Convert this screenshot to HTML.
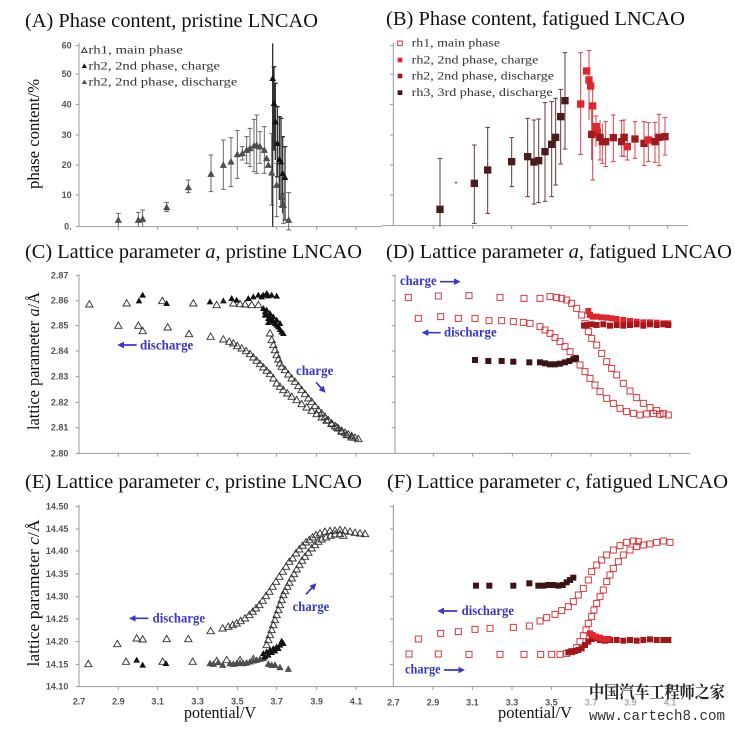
<!DOCTYPE html>
<html><head><meta charset="utf-8"><style>
html,body{margin:0;padding:0;background:#fff;}
svg{display:block;}
.t{font-family:"Liberation Serif",serif;fill:#111;}
.tk{font-family:"Liberation Sans",sans-serif;fill:#555;font-weight:bold;}
.lg{font-family:"Liberation Serif",serif;fill:#333;}
.bl{font-family:"Liberation Serif",serif;fill:#3838c8;font-weight:bold;}
.ax{stroke:#999;stroke-width:3;fill:none;}
.ar{stroke:#3838c8;stroke-width:5;fill:none;}
</style></head><body>
<svg width="735" height="731" viewBox="0 0 735 731" xmlns="http://www.w3.org/2000/svg">
<defs>
<path id="TO" d="M-11,8L0,-11L11,8Z" fill="none" stroke="#333" stroke-width="2.8"/>
<path id="TB" d="M-10,8L0,-10L10,8Z" fill="#111"/>
<path id="TG" d="M-10,8L0,-10L10,8Z" fill="#505050" stroke="#333" stroke-width="1"/>
<path id="LO" d="M-8,6L0,-8L8,6Z" fill="none" stroke="#333" stroke-width="3"/>
<path id="LB" d="M-8,6L0,-8L8,6Z" fill="#111"/>
<path id="LG" d="M-8,6L0,-8L8,6Z" fill="#555"/>
<path id="SO" d="M-9,-9h18v18h-18z" fill="none" stroke="#d63a3e" stroke-width="3"/>
<path id="SR" d="M-9,-9h18v18h-18z" fill="#e0262c"/>
<path id="SD" d="M-9,-9h18v18h-18z" fill="#a3161c"/>
<path id="SB" d="M-9,-9h18v18h-18z" fill="#3c1414"/>
<path id="BR" d="M-11,-11h22v22h-22z" fill="#e0262c"/>
<path id="BD" d="M-11,-11h22v22h-22z" fill="#9e1a1e"/>
<path id="BB" d="M-11,-11h22v22h-22z" fill="#4a1c1c"/>
<path id="LSO" d="M-7,-7h14v14h-14z" fill="none" stroke="#d63a3e" stroke-width="3"/>
<path id="LSR" d="M-7,-7h14v14h-14z" fill="#e0262c"/>
<path id="LSD" d="M-7,-7h14v14h-14z" fill="#a3161c"/>
<path id="LSB" d="M-7,-7h14v14h-14z" fill="#3c1414"/>
<marker id="ah" viewBox="0 0 10 10" refX="5" refY="5" markerWidth="4" markerHeight="4" orient="auto"><path d="M0,0L10,5L0,10z" fill="#3838c8"/></marker>
</defs>

<!-- Titles -->
<text class="t" x="25" y="27" font-size="20" textLength="293" lengthAdjust="spacingAndGlyphs">(A) Phase content, pristine LNCAO</text>
<text class="t" x="386" y="25" font-size="20" textLength="299" lengthAdjust="spacingAndGlyphs">(B) Phase content, fatigued LNCAO</text>
<text class="t" x="25" y="258" font-size="20" textLength="337" lengthAdjust="spacingAndGlyphs">(C) Lattice parameter <tspan font-style="italic">a</tspan>, pristine LNCAO</text>
<text class="t" x="386" y="258" font-size="20" textLength="346" lengthAdjust="spacingAndGlyphs">(D) Lattice parameter <tspan font-style="italic">a</tspan>, fatigued LNCAO</text>
<text class="t" x="25" y="488" font-size="20" textLength="337" lengthAdjust="spacingAndGlyphs">(E) Lattice parameter <tspan font-style="italic">c</tspan>, pristine LNCAO</text>
<text class="t" x="387" y="488" font-size="20" textLength="341" lengthAdjust="spacingAndGlyphs">(F) Lattice parameter <tspan font-style="italic">c</tspan>, fatigued LNCAO</text>

<!-- Y labels -->
<text class="t" font-size="17" text-anchor="middle" transform="translate(39,134) rotate(-90)" textLength="110" lengthAdjust="spacingAndGlyphs">phase content/%</text>
<text class="t" font-size="17" text-anchor="middle" transform="translate(39,361) rotate(-90)" textLength="138" lengthAdjust="spacingAndGlyphs">lattice parameter <tspan font-style="italic">a</tspan>/Å</text>
<text class="t" font-size="17" text-anchor="middle" transform="translate(39,593) rotate(-90)" textLength="147" lengthAdjust="spacingAndGlyphs">lattice parameter <tspan font-style="italic">c</tspan>/Å</text>

<!-- X labels -->
<text class="t" x="220" y="718" font-size="17" text-anchor="middle" textLength="72" lengthAdjust="spacingAndGlyphs">potential/V</text>
<text class="t" x="535" y="718" font-size="17" text-anchor="middle" textLength="74" lengthAdjust="spacingAndGlyphs">potential/V</text>

<!-- ============ PANEL A ============ -->
<g transform="translate(0,0) scale(0.33333)">
<path class="ax" d="M237,128V680H1146M227,137h10M227,222h10M227,313h10M227,405h10M227,495h10M227,585h10M227,680h10M355,680v10M473,680v10M593,680v10M712,680v10M830,680v10M950,680v10M1068,680v10"/>
<g class="tk" font-size="27" text-anchor="end">
<text x="215" y="146">60</text><text x="215" y="231">50</text><text x="215" y="322">40</text><text x="215" y="414">30</text><text x="215" y="504">20</text><text x="215" y="594">10</text><text x="215" y="689">0.</text>
</g>
<use href="#LO" x="253" y="151"/><use href="#LB" x="253" y="198"/><use href="#LG" x="253" y="246"/>
<g class="lg" font-size="36">
<text x="265" y="161" textLength="283" lengthAdjust="spacingAndGlyphs">rh1, main phase</text>
<text x="265" y="208" textLength="395" lengthAdjust="spacingAndGlyphs">rh2, 2nd phase, charge</text>
<text x="265" y="256" textLength="447" lengthAdjust="spacingAndGlyphs">rh2, 2nd phase, discharge</text>
</g>
<path stroke="#6a6a6a" stroke-width="3" fill="none" d="M355,640V680M348,640h14M415,637V680M408,637h14M428,630V680M421,630h14M500,607V635M493,607h14M493,635h14M565,540V578M558,540h14M558,578h14M633,465V575M626,465h14M626,575h14M670,420V568M663,420h14M663,568h14M693,413V560M686,413h14M686,560h14M712,392V535M705,392h14M705,535h14M727,440V480M720,440h14M720,480h14M740,410V490M733,410h14M733,490h14M750,385V500M743,385h14M743,500h14M762,358V515M755,358h14M755,515h14M770,345V520M763,345h14M763,520h14M780,395V490M773,395h14M773,490h14M793,380V520M786,380h14M786,520h14M815,400V615M808,400h14M808,615h14M830,490V650M823,490h14M823,650h14M850,580V670M843,580h14M843,670h14M866,578V690M859,578h14M859,690h14"/>
<path stroke="#333" stroke-width="4" fill="none" d="M818,130V680M822,200V450M815,200h14M815,450h14M826,250V480M819,250h14M832,320V530M825,320h14M825,530h14M838,350V600M831,350h14M843,355V620M836,355h14M836,620h14M848,410V640M841,410h14M855,440V660M848,440h14M848,660h14"/>
<g>
<use href="#TG" x="355" y="660"/><use href="#TG" x="415" y="660"/><use href="#TG" x="428" y="657"/><use href="#TG" x="500" y="622"/><use href="#TG" x="565" y="562"/><use href="#TG" x="633" y="522"/><use href="#TG" x="670" y="495"/><use href="#TG" x="693" y="485"/><use href="#TG" x="712" y="463"/><use href="#TG" x="727" y="460"/><use href="#TG" x="740" y="450"/><use href="#TG" x="750" y="445"/><use href="#TG" x="762" y="437"/><use href="#TG" x="770" y="435"/><use href="#TG" x="780" y="440"/><use href="#TG" x="793" y="450"/><use href="#TG" x="800" y="475"/><use href="#TG" x="805" y="495"/><use href="#TG" x="815" y="518"/><use href="#TG" x="830" y="555"/><use href="#TG" x="845" y="590"/><use href="#TG" x="850" y="615"/><use href="#TG" x="866" y="660"/>
<use href="#TB" x="818" y="235"/><use href="#TB" x="822" y="310"/><use href="#TB" x="826" y="365"/><use href="#TB" x="832" y="430"/><use href="#TB" x="838" y="478"/><use href="#TB" x="843" y="485"/><use href="#TB" x="848" y="520"/><use href="#TB" x="855" y="532"/>
</g>
</g>

<!-- ============ PANEL B ============ -->
<g transform="translate(370,0) scale(0.33333)">
<path class="ax" d="M70,128V677M36,677H955M60,137h10M60,222h10M60,313h10M60,405h10M60,495h10M60,585h10M190,677v10M308,677v10M425,677v10M543,677v10M660,677v10M778,677v10M893,677v10"/>
<use href="#LSO" x="90" y="130"/><use href="#LSR" x="90" y="180"/><use href="#LSD" x="90" y="228"/><use href="#LSB" x="90" y="278"/>
<g class="lg" font-size="36">
<text x="125" y="140" textLength="265" lengthAdjust="spacingAndGlyphs">rh1, main phase</text>
<text x="125" y="190" textLength="380" lengthAdjust="spacingAndGlyphs">rh2, 2nd phase, charge</text>
<text x="125" y="238" textLength="427" lengthAdjust="spacingAndGlyphs">rh2, 2nd phase, discharge</text>
<text x="125" y="288" textLength="423" lengthAdjust="spacingAndGlyphs">rh3, 3rd phase, discharge</text>
</g>
<path stroke="#6b3a3a" stroke-width="3" fill="none" d="M210,475V680M203,475h14M313,435V670M306,435h14M306,670h14M353,382V640M346,382h14M346,640h14M425,413V560M418,413h14M418,560h14M473,355V590M466,355h14M466,590h14M492,360V612M485,360h14M485,612h14M506,357V608M499,357h14M499,608h14M525,308V604M518,308h14M518,604h14M545,305V590M538,305h14M538,590h14M557,295V555M550,295h14M550,555h14M572,268V492M565,268h14M565,492h14M585,158V447M578,158h14M578,447h14"/>
<path stroke="#d84448" stroke-width="3" fill="none" d="M632,158V463M625,158h14M625,463h14M657,152V360M650,152h14M668,260V540M661,540h14M665,330V480M678,348V440M671,348h14M690,360V480M683,480h14M697,370V490M690,490h14M707,365V500M700,365h14M700,500h14M730,345V485M723,345h14M723,485h14M755,362V468M748,362h14M748,468h14M762,360V470M755,360h14M755,470h14M772,400V480M765,480h14M795,365V475M788,365h14M788,475h14M822,365V497M815,365h14M815,497h14M835,368V485M828,368h14M828,485h14M855,367V487M848,367h14M848,487h14M867,343V497M860,343h14M860,497h14M885,353V465M878,353h14M878,465h14"/>
<circle cx="258" cy="548" r="3" fill="#666"/>
<g>
<use href="#BB" x="210" y="628"/><use href="#BB" x="313" y="550"/><use href="#BB" x="353" y="510"/><use href="#BB" x="425" y="485"/><use href="#BB" x="473" y="470"/><use href="#BB" x="492" y="486"/><use href="#BB" x="506" y="482"/><use href="#BB" x="525" y="455"/><use href="#BB" x="545" y="433"/><use href="#BB" x="557" y="412"/><use href="#BB" x="572" y="350"/><use href="#BB" x="585" y="302"/>
<use href="#BR" x="632" y="312"/><use href="#BR" x="650" y="213"/><use href="#BR" x="657" y="240"/><use href="#BR" x="662" y="258"/><use href="#BR" x="668" y="318"/><use href="#BR" x="678" y="380"/><use href="#BR" x="682" y="397"/>
<use href="#BD" x="665" y="403"/><use href="#BD" x="690" y="412"/><use href="#BD" x="697" y="425"/><use href="#BD" x="707" y="425"/><use href="#BD" x="730" y="413"/><use href="#BD" x="755" y="425"/><use href="#BD" x="762" y="412"/><use href="#BR" x="772" y="440"/><use href="#BD" x="795" y="417"/><use href="#BD" x="822" y="430"/><use href="#BR" x="835" y="420"/><use href="#BD" x="855" y="425"/><use href="#BD" x="867" y="412"/><use href="#BD" x="885" y="410"/>
</g>
</g>

<!-- ============ PANEL C ============ -->
<g transform="translate(0,235) scale(0.33333)">
<path class="ax" d="M237,118V655H1146M227,122h10M227,197h10M227,272h10M227,348h10M227,425h10M227,502h10M227,578h10M227,655h10M355,655v10M473,655v10M593,655v10M712,655v10M830,655v10M950,655v10M1068,655v10"/>
<g class="tk" font-size="27" text-anchor="end">
<text x="205" y="131">2.87</text><text x="205" y="206">2.86</text><text x="205" y="281">2.85</text><text x="205" y="357">2.84</text><text x="205" y="434">2.83</text><text x="205" y="511">2.82</text><text x="205" y="587">2.81</text><text x="205" y="664">2.80</text>
</g>
<g>
<use href="#TO" x="268" y="208"/><use href="#TO" x="380" y="205"/><use href="#TO" x="487" y="198"/><use href="#TO" x="580" y="205"/><use href="#TO" x="650" y="210"/><use href="#TO" x="700" y="205"/><use href="#TO" x="720" y="207"/><use href="#TO" x="735" y="208"/><use href="#TO" x="755" y="210"/><use href="#TO" x="775" y="210"/>
<use href="#TO" x="355" y="272"/><use href="#TO" x="415" y="272"/><use href="#TO" x="428" y="288"/><use href="#TO" x="503" y="277"/><use href="#TO" x="567" y="297"/><use href="#TO" x="632" y="305"/>
<use href="#TO" x="810" y="295"/><use href="#TO" x="815" y="315"/><use href="#TO" x="820" y="330"/><use href="#TO" x="825" y="345"/><use href="#TO" x="830" y="360"/><use href="#TO" x="835" y="373"/><use href="#TO" x="840" y="385"/><use href="#TO" x="845" y="395"/><use href="#TO" x="855" y="405"/><use href="#TO" x="865" y="418"/><use href="#TO" x="875" y="430"/><use href="#TO" x="885" y="440"/><use href="#TO" x="895" y="453"/><use href="#TO" x="905" y="465"/><use href="#TO" x="915" y="477"/><use href="#TO" x="925" y="490"/><use href="#TO" x="935" y="500"/><use href="#TO" x="945" y="513"/><use href="#TO" x="955" y="525"/><use href="#TO" x="965" y="535"/><use href="#TO" x="975" y="545"/><use href="#TO" x="985" y="555"/><use href="#TO" x="995" y="565"/><use href="#TO" x="1005" y="573"/><use href="#TO" x="1015" y="580"/><use href="#TO" x="1025" y="587"/><use href="#TO" x="1035" y="593"/><use href="#TO" x="1045" y="598"/><use href="#TO" x="1055" y="603"/><use href="#TO" x="1065" y="608"/><use href="#TO" x="1075" y="612"/>
<use href="#TO" x="670" y="313"/><use href="#TO" x="688" y="320"/><use href="#TO" x="700" y="325"/><use href="#TO" x="712" y="333"/><use href="#TO" x="725" y="340"/><use href="#TO" x="738" y="348"/><use href="#TO" x="750" y="357"/><use href="#TO" x="760" y="367"/><use href="#TO" x="770" y="377"/><use href="#TO" x="780" y="387"/><use href="#TO" x="790" y="397"/><use href="#TO" x="800" y="407"/><use href="#TO" x="810" y="417"/><use href="#TO" x="820" y="430"/><use href="#TO" x="830" y="445"/><use href="#TO" x="840" y="455"/><use href="#TO" x="850" y="465"/><use href="#TO" x="862" y="475"/><use href="#TO" x="875" y="485"/><use href="#TO" x="890" y="495"/><use href="#TO" x="905" y="507"/><use href="#TO" x="920" y="517"/><use href="#TO" x="935" y="527"/><use href="#TO" x="950" y="537"/><use href="#TO" x="965" y="547"/><use href="#TO" x="980" y="557"/><use href="#TO" x="995" y="567"/><use href="#TO" x="1010" y="577"/><use href="#TO" x="1025" y="590"/><use href="#TO" x="1040" y="600"/><use href="#TO" x="1055" y="607"/>
<use href="#TB" x="417" y="197"/><use href="#TB" x="428" y="180"/><use href="#TB" x="500" y="205"/><use href="#TB" x="630" y="200"/><use href="#TB" x="670" y="197"/><use href="#TB" x="695" y="190"/><use href="#TB" x="710" y="195"/><use href="#TB" x="745" y="190"/><use href="#TB" x="760" y="185"/><use href="#TB" x="775" y="180"/><use href="#TB" x="785" y="185"/><use href="#TB" x="790" y="180"/><use href="#TB" x="800" y="175"/><use href="#TB" x="805" y="182"/><use href="#TB" x="815" y="180"/><use href="#TB" x="830" y="183"/>
<use href="#TB" x="790" y="220"/><use href="#TB" x="795" y="230"/><use href="#TB" x="800" y="240"/><use href="#TB" x="805" y="250"/><use href="#TB" x="810" y="247"/><use href="#TB" x="815" y="255"/><use href="#TB" x="820" y="260"/><use href="#TB" x="825" y="265"/><use href="#TB" x="830" y="270"/><use href="#TB" x="835" y="275"/><use href="#TB" x="840" y="283"/><use href="#TB" x="845" y="290"/><use href="#TB" x="850" y="295"/><use href="#TB" x="800" y="225"/><use href="#TB" x="810" y="235"/><use href="#TB" x="820" y="245"/><use href="#TB" x="830" y="255"/><use href="#TB" x="840" y="265"/><use href="#TB" x="795" y="240"/><use href="#TB" x="805" y="262"/>
</g>
<path class="ar" d="M410,330H362" marker-end="url(#ah)"/>
<text class="bl" x="420" y="343" font-size="42" textLength="160" lengthAdjust="spacingAndGlyphs">discharge</text>
<text class="bl" x="888" y="420" font-size="42" textLength="112" lengthAdjust="spacingAndGlyphs">charge</text>
<path class="ar" d="M948,442L970,466" marker-end="url(#ah)"/>
</g>

<!-- ============ PANEL D ============ -->
<g transform="translate(370,235) scale(0.33333)">
<path class="ax" d="M75,118V655M36,655H960M65,122h10M65,197h10M65,272h10M65,348h10M65,425h10M65,502h10M65,578h10M190,655v10M308,655v10M427,655v10M545,655v10M663,655v10M782,655v10M900,655v10"/>
<g>
<use href="#SO" x="115" y="187"/><use href="#SO" x="205" y="183"/><use href="#SO" x="297" y="182"/><use href="#SO" x="390" y="187"/><use href="#SO" x="462" y="190"/><use href="#SO" x="510" y="190"/><use href="#SO" x="540" y="185"/><use href="#SO" x="560" y="187"/><use href="#SO" x="575" y="190"/><use href="#SO" x="590" y="195"/><use href="#SO" x="605" y="205"/><use href="#SO" x="620" y="220"/><use href="#SO" x="635" y="240"/><use href="#SO" x="645" y="265"/><use href="#SO" x="655" y="290"/><use href="#SO" x="665" y="310"/><use href="#SO" x="680" y="330"/><use href="#SO" x="695" y="355"/><use href="#SO" x="710" y="380"/><use href="#SO" x="725" y="400"/><use href="#SO" x="740" y="420"/><use href="#SO" x="760" y="445"/><use href="#SO" x="780" y="468"/><use href="#SO" x="800" y="488"/><use href="#SO" x="820" y="505"/><use href="#SO" x="840" y="518"/><use href="#SO" x="860" y="527"/><use href="#SO" x="880" y="535"/><use href="#SO" x="895" y="540"/>
<use href="#SO" x="145" y="250"/><use href="#SO" x="212" y="245"/><use href="#SO" x="265" y="250"/><use href="#SO" x="315" y="250"/><use href="#SO" x="357" y="257"/><use href="#SO" x="395" y="257"/><use href="#SO" x="430" y="260"/><use href="#SO" x="460" y="262"/><use href="#SO" x="480" y="265"/><use href="#SO" x="510" y="275"/><use href="#SO" x="525" y="285"/><use href="#SO" x="540" y="295"/><use href="#SO" x="555" y="308"/><use href="#SO" x="570" y="320"/><use href="#SO" x="585" y="335"/><use href="#SO" x="600" y="350"/><use href="#SO" x="615" y="370"/><use href="#SO" x="630" y="390"/><use href="#SO" x="645" y="410"/><use href="#SO" x="660" y="430"/><use href="#SO" x="675" y="450"/><use href="#SO" x="690" y="470"/><use href="#SO" x="710" y="490"/><use href="#SO" x="730" y="505"/><use href="#SO" x="750" y="520"/><use href="#SO" x="770" y="530"/><use href="#SO" x="790" y="535"/><use href="#SO" x="810" y="540"/><use href="#SO" x="830" y="537"/><use href="#SO" x="850" y="535"/><use href="#SO" x="870" y="538"/>
<use href="#SR" x="655" y="228"/><use href="#SR" x="660" y="240"/><use href="#SR" x="668" y="245"/><use href="#SR" x="680" y="245"/><use href="#SR" x="695" y="247"/><use href="#SR" x="710" y="248"/><use href="#SR" x="725" y="250"/><use href="#SR" x="740" y="252"/><use href="#SR" x="760" y="255"/><use href="#SR" x="780" y="258"/><use href="#SR" x="800" y="260"/><use href="#SR" x="820" y="262"/><use href="#SR" x="840" y="262"/><use href="#SR" x="860" y="263"/><use href="#SR" x="880" y="265"/><use href="#SR" x="895" y="265"/>
<use href="#SD" x="642" y="272"/><use href="#SD" x="650" y="270"/><use href="#SD" x="665" y="268"/><use href="#SD" x="680" y="270"/><use href="#SD" x="700" y="268"/><use href="#SD" x="720" y="272"/><use href="#SD" x="740" y="270"/><use href="#SD" x="760" y="272"/><use href="#SD" x="780" y="270"/><use href="#SD" x="800" y="268"/><use href="#SD" x="820" y="272"/><use href="#SD" x="840" y="268"/><use href="#SD" x="860" y="270"/><use href="#SD" x="880" y="268"/><use href="#SD" x="895" y="270"/>
<use href="#SB" x="315" y="375"/><use href="#SB" x="355" y="378"/><use href="#SB" x="395" y="378"/><use href="#SB" x="430" y="380"/><use href="#SB" x="478" y="382"/><use href="#SB" x="510" y="382"/><use href="#SB" x="525" y="385"/><use href="#SB" x="540" y="388"/><use href="#SB" x="555" y="388"/><use href="#SB" x="570" y="386"/><use href="#SB" x="585" y="382"/><use href="#SB" x="598" y="378"/><use href="#SB" x="610" y="373"/><use href="#SB" x="618" y="370"/>
</g>
<text class="bl" x="90" y="150" font-size="42" textLength="110" lengthAdjust="spacingAndGlyphs">charge</text>
<path class="ar" d="M210,140H262" marker-end="url(#ah)"/>
<path class="ar" d="M212,293H165" marker-end="url(#ah)"/>
<text class="bl" x="222" y="305" font-size="42" textLength="158" lengthAdjust="spacingAndGlyphs">discharge</text>
</g>

<!-- ============ PANEL E ============ -->
<g transform="translate(0,465) scale(0.33333)">
<path class="ax" d="M237,120V665H1146M227,125h10M227,192h10M227,258h10M227,327h10M227,395h10M227,462h10M227,530h10M227,598h10M227,665h10M355,665v10M473,665v10M593,665v10M712,665v10M830,665v10M950,665v10M1068,665v10"/>
<g class="tk" font-size="27" text-anchor="end">
<text x="205" y="134">14.50</text><text x="205" y="201">14.45</text><text x="205" y="267">14.40</text><text x="205" y="336">14.35</text><text x="205" y="404">14.30</text><text x="205" y="471">14.25</text><text x="205" y="539">14.20</text><text x="205" y="607">14.15</text><text x="205" y="674">14.10</text>
</g>
<g class="tk" font-size="27" text-anchor="middle">
<text x="237" y="719">2.7</text><text x="355" y="719">2.9</text><text x="473" y="719">3.1</text><text x="593" y="719">3.3</text><text x="712" y="719">3.5</text><text x="830" y="719">3.7</text><text x="950" y="719">3.9</text><text x="1068" y="719">4.1</text>
</g>
<g>
<use href="#TO" x="265" y="597"/><use href="#TO" x="352" y="537"/><use href="#TO" x="378" y="590"/><use href="#TO" x="410" y="520"/><use href="#TO" x="428" y="523"/><use href="#TO" x="488" y="590"/><use href="#TO" x="500" y="522"/><use href="#TO" x="565" y="522"/><use href="#TO" x="578" y="590"/><use href="#TO" x="632" y="498"/><use href="#TO" x="650" y="588"/>
<use href="#TO" x="668" y="490"/><use href="#TO" x="685" y="485"/><use href="#TO" x="698" y="480"/><use href="#TO" x="710" y="475"/><use href="#TO" x="722" y="468"/><use href="#TO" x="735" y="460"/><use href="#TO" x="748" y="450"/><use href="#TO" x="758" y="440"/><use href="#TO" x="768" y="430"/><use href="#TO" x="778" y="420"/><use href="#TO" x="788" y="407"/><use href="#TO" x="798" y="393"/><use href="#TO" x="808" y="380"/><use href="#TO" x="818" y="365"/><use href="#TO" x="828" y="350"/><use href="#TO" x="838" y="335"/><use href="#TO" x="848" y="320"/><use href="#TO" x="858" y="305"/><use href="#TO" x="868" y="290"/><use href="#TO" x="878" y="280"/><use href="#TO" x="888" y="265"/><use href="#TO" x="898" y="253"/><use href="#TO" x="908" y="242"/><use href="#TO" x="918" y="232"/><use href="#TO" x="928" y="225"/><use href="#TO" x="938" y="217"/><use href="#TO" x="948" y="210"/><use href="#TO" x="960" y="205"/><use href="#TO" x="975" y="200"/><use href="#TO" x="990" y="198"/><use href="#TO" x="1005" y="197"/><use href="#TO" x="1020" y="195"/><use href="#TO" x="1035" y="197"/><use href="#TO" x="1050" y="200"/><use href="#TO" x="1065" y="203"/><use href="#TO" x="1080" y="205"/><use href="#TO" x="1095" y="207"/>
<use href="#TO" x="800" y="540"/><use href="#TO" x="805" y="525"/><use href="#TO" x="810" y="510"/><use href="#TO" x="815" y="495"/><use href="#TO" x="820" y="480"/><use href="#TO" x="825" y="465"/><use href="#TO" x="830" y="450"/><use href="#TO" x="835" y="435"/><use href="#TO" x="840" y="420"/><use href="#TO" x="845" y="405"/><use href="#TO" x="850" y="390"/><use href="#TO" x="855" y="378"/><use href="#TO" x="862" y="365"/><use href="#TO" x="868" y="353"/><use href="#TO" x="875" y="340"/><use href="#TO" x="882" y="327"/><use href="#TO" x="890" y="313"/><use href="#TO" x="898" y="300"/><use href="#TO" x="906" y="287"/><use href="#TO" x="915" y="275"/><use href="#TO" x="925" y="263"/><use href="#TO" x="935" y="250"/><use href="#TO" x="945" y="240"/><use href="#TO" x="955" y="230"/><use href="#TO" x="965" y="223"/><use href="#TO" x="978" y="217"/><use href="#TO" x="992" y="212"/><use href="#TO" x="1005" y="208"/><use href="#TO" x="1020" y="207"/><use href="#TO" x="1030" y="212"/>
<use href="#TO" x="680" y="585"/><use href="#TO" x="720" y="585"/><use href="#TO" x="760" y="582"/>
<use href="#TG" x="630" y="595"/><use href="#TG" x="640" y="597"/><use href="#TG" x="655" y="592"/><use href="#TG" x="668" y="600"/><use href="#TG" x="690" y="595"/><use href="#TG" x="700" y="597"/><use href="#TG" x="710" y="595"/><use href="#TG" x="720" y="593"/><use href="#TG" x="730" y="595"/><use href="#TG" x="740" y="593"/><use href="#TG" x="750" y="590"/><use href="#TG" x="760" y="587"/><use href="#TG" x="770" y="585"/><use href="#TG" x="780" y="582"/><use href="#TG" x="790" y="580"/><use href="#TG" x="805" y="597"/><use href="#TG" x="815" y="600"/><use href="#TG" x="825" y="600"/><use href="#TG" x="840" y="607"/><use href="#TG" x="865" y="612"/>
<use href="#TB" x="410" y="585"/><use href="#TB" x="428" y="600"/><use href="#TB" x="498" y="595"/>
<use href="#TB" x="790" y="565"/><use href="#TB" x="800" y="560"/><use href="#TB" x="810" y="555"/><use href="#TB" x="820" y="550"/><use href="#TB" x="830" y="545"/><use href="#TB" x="840" y="540"/><use href="#TB" x="850" y="535"/><use href="#TB" x="845" y="528"/><use href="#TB" x="835" y="550"/><use href="#TB" x="795" y="575"/><use href="#TB" x="805" y="570"/><use href="#TB" x="815" y="562"/><use href="#TB" x="825" y="557"/>
</g>
<path class="ar" d="M445,460H397" marker-end="url(#ah)"/>
<text class="bl" x="458" y="472" font-size="42" textLength="157" lengthAdjust="spacingAndGlyphs">discharge</text>
<text class="bl" x="878" y="438" font-size="42" textLength="110" lengthAdjust="spacingAndGlyphs">charge</text>
<path class="ar" d="M918,388L942,362" marker-end="url(#ah)"/>
</g>

<!-- ============ PANEL F ============ -->
<g transform="translate(370,465) scale(0.33333)">
<path class="ax" d="M70,120V665M36,665H960M60,125h10M60,192h10M60,258h10M60,327h10M60,395h10M60,462h10M60,530h10M60,598h10M189,665v10M307,665v10M426,665v10M544,665v10M663,665v10M781,665v10M900,665v10"/>
<g class="tk" font-size="27" text-anchor="middle">
<text x="70" y="722">2.7</text><text x="189" y="722">2.9</text><text x="307" y="722">3.1</text><text x="426" y="722">3.3</text><text x="544" y="722">3.5</text><text x="663" y="722" fill="#aaa">3.7</text><text x="781" y="722" fill="#aaa">3.9</text><text x="900" y="722" fill="#aaa">4.1</text>
</g>
<g>
<use href="#SO" x="117" y="567"/><use href="#SO" x="205" y="567"/><use href="#SO" x="297" y="568"/><use href="#SO" x="390" y="568"/><use href="#SO" x="462" y="568"/><use href="#SO" x="512" y="568"/><use href="#SO" x="545" y="568"/><use href="#SO" x="570" y="568"/><use href="#SO" x="590" y="565"/><use href="#SO" x="605" y="560"/><use href="#SO" x="620" y="548"/><use href="#SO" x="630" y="530"/><use href="#SO" x="640" y="512"/><use href="#SO" x="648" y="495"/><use href="#SO" x="655" y="475"/><use href="#SO" x="665" y="455"/><use href="#SO" x="672" y="435"/><use href="#SO" x="680" y="415"/><use href="#SO" x="690" y="395"/><use href="#SO" x="700" y="375"/><use href="#SO" x="710" y="350"/><use href="#SO" x="720" y="330"/><use href="#SO" x="730" y="310"/><use href="#SO" x="745" y="290"/><use href="#SO" x="760" y="270"/><use href="#SO" x="780" y="255"/><use href="#SO" x="800" y="245"/><use href="#SO" x="820" y="240"/><use href="#SO" x="840" y="237"/><use href="#SO" x="860" y="232"/><use href="#SO" x="880" y="228"/><use href="#SO" x="900" y="232"/>
<use href="#SO" x="145" y="522"/><use href="#SO" x="212" y="505"/><use href="#SO" x="265" y="500"/><use href="#SO" x="315" y="493"/><use href="#SO" x="360" y="490"/><use href="#SO" x="430" y="487"/><use href="#SO" x="478" y="483"/><use href="#SO" x="510" y="468"/><use href="#SO" x="530" y="458"/><use href="#SO" x="555" y="448"/><use href="#SO" x="575" y="437"/><use href="#SO" x="595" y="425"/><use href="#SO" x="610" y="410"/><use href="#SO" x="625" y="390"/><use href="#SO" x="640" y="370"/><use href="#SO" x="655" y="345"/><use href="#SO" x="665" y="320"/><use href="#SO" x="680" y="300"/><use href="#SO" x="695" y="285"/><use href="#SO" x="710" y="270"/><use href="#SO" x="730" y="255"/><use href="#SO" x="750" y="242"/><use href="#SO" x="770" y="232"/><use href="#SO" x="790" y="228"/><use href="#SO" x="805" y="230"/>
<use href="#SD" x="595" y="562"/><use href="#SD" x="605" y="560"/><use href="#SD" x="615" y="558"/><use href="#SD" x="625" y="555"/><use href="#SD" x="635" y="550"/><use href="#SD" x="645" y="540"/><use href="#SD" x="655" y="530"/><use href="#SD" x="665" y="522"/><use href="#SD" x="675" y="520"/><use href="#SD" x="690" y="525"/><use href="#SD" x="705" y="527"/><use href="#SD" x="720" y="525"/><use href="#SD" x="740" y="525"/><use href="#SD" x="760" y="527"/><use href="#SD" x="780" y="525"/><use href="#SD" x="800" y="527"/><use href="#SD" x="820" y="525"/><use href="#SD" x="840" y="523"/><use href="#SD" x="860" y="525"/><use href="#SD" x="880" y="525"/><use href="#SD" x="895" y="525"/>
<use href="#SR" x="660" y="505"/><use href="#SR" x="668" y="510"/><use href="#SR" x="678" y="515"/><use href="#SR" x="690" y="518"/><use href="#SR" x="700" y="522"/><use href="#SR" x="715" y="522"/>
<use href="#SB" x="318" y="362"/><use href="#SB" x="358" y="362"/><use href="#SB" x="430" y="362"/><use href="#SB" x="478" y="355"/><use href="#SB" x="505" y="362"/><use href="#SB" x="520" y="362"/><use href="#SB" x="535" y="360"/><use href="#SB" x="550" y="360"/><use href="#SB" x="565" y="362"/><use href="#SB" x="578" y="360"/><use href="#SB" x="590" y="352"/><use href="#SB" x="600" y="345"/><use href="#SB" x="610" y="338"/>
</g>
<path class="ar" d="M262,438H212" marker-end="url(#ah)"/>
<text class="bl" x="275" y="450" font-size="42" textLength="157" lengthAdjust="spacingAndGlyphs">discharge</text>
<text class="bl" x="105" y="625" font-size="42" textLength="107" lengthAdjust="spacingAndGlyphs">charge</text>
<path class="ar" d="M222,615H275" marker-end="url(#ah)"/>
</g>

<!-- Watermark -->
<text x="589" y="698" font-family="'Liberation Serif','Noto Serif CJK SC',serif" font-size="17" font-weight="bold" fill="#222" textLength="136" lengthAdjust="spacingAndGlyphs">中国汽车工程师之家</text>
<text x="589" y="720" font-family="'Liberation Mono',monospace" font-size="15" fill="#333" textLength="136" lengthAdjust="spacingAndGlyphs">www.cartech8.com</text>
</svg>
</body></html>
